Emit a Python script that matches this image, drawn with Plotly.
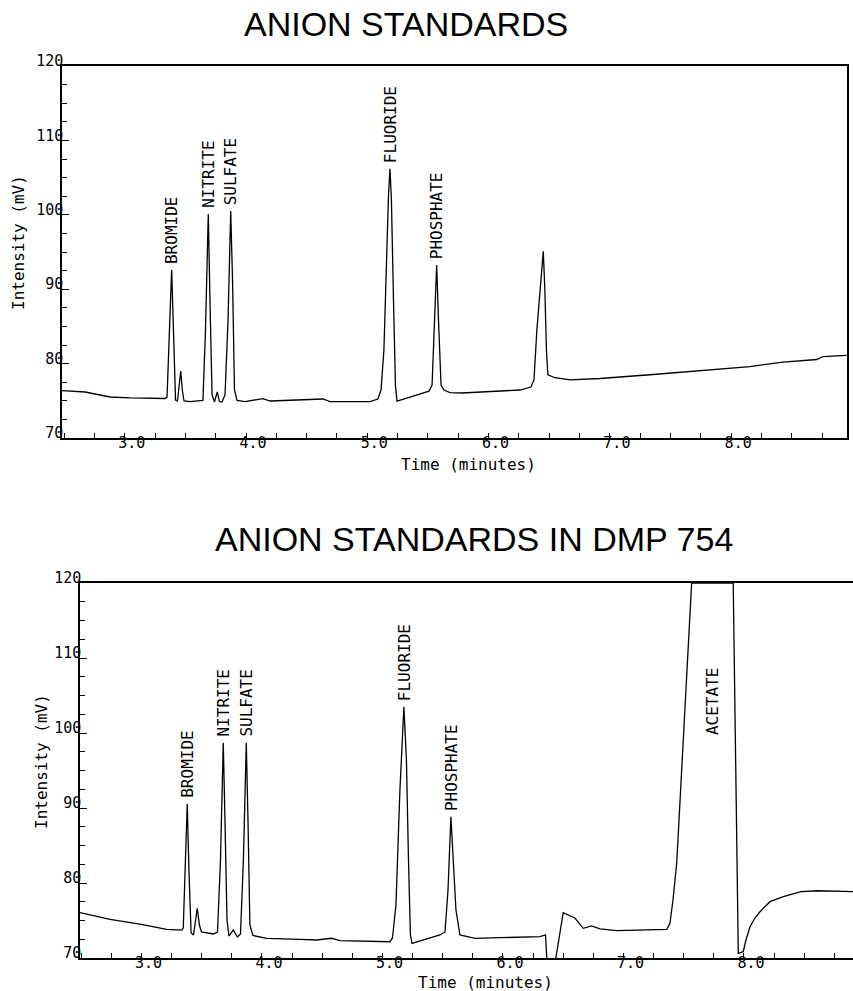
import plotly.graph_objects as go

# ---------------- data ----------------
top_time = [2.483, 2.673, 2.879, 3.044, 3.332, 3.349, 3.369, 3.387, 3.402, 3.419,
            3.435, 3.452, 3.462, 3.475, 3.489, 3.538, 3.645, 3.666, 3.689, 3.703,
            3.720, 3.740, 3.763, 3.781, 3.802, 3.827, 3.852, 3.874, 3.889, 3.905,
            3.926, 3.992, 4.140, 4.198, 4.635, 4.692, 5.022, 5.088, 5.113, 5.137,
            5.162, 5.175, 5.187, 5.199, 5.216, 5.232, 5.245, 5.270, 5.352, 5.459,
            5.509, 5.534, 5.554, 5.572, 5.587, 5.608, 5.632, 5.682, 5.781, 5.929,
            6.094, 6.259, 6.349, 6.374, 6.398, 6.423, 6.451, 6.464, 6.477, 6.489,
            6.547, 6.671, 6.918, 7.331, 7.744, 8.155, 8.427, 8.705, 8.757, 8.952]
top_mv = [76.36, 76.18, 75.51, 75.38, 75.31, 75.5, 84.5, 92.6, 84.5, 75.1,
          74.97, 77.1, 79.0, 76.45, 74.97, 74.9, 75.04, 84.5, 100.1, 88.5,
          75.8, 74.84, 76.2, 74.9, 74.84, 75.8, 85.9, 100.5, 91.2, 76.45,
          75.04, 74.9, 75.3, 74.97, 75.24, 74.9, 74.9, 75.24, 76.45, 81.8,
          96.6, 102.7, 106.2, 102.0, 88.5, 77.1, 74.97, 75.1, 75.5, 76.05,
          76.3, 77.1, 85.9, 93.25, 85.9, 77.1, 76.45, 76.1, 76.05, 76.2,
          76.3, 76.45, 76.85, 77.8, 84.5, 89.9, 95.1, 89.9, 81.8, 78.5,
          78.1, 77.8, 78.0, 78.5, 79.07, 79.6, 80.2, 80.55, 80.95, 81.1]

bot_time = [2.490, 2.739, 2.988, 3.209, 3.334, 3.347, 3.365, 3.380, 3.394, 3.412,
            3.432, 3.448, 3.463, 3.481, 3.498, 3.596, 3.631, 3.656, 3.679, 3.693,
            3.710, 3.726, 3.762, 3.797, 3.822, 3.846, 3.870, 3.884, 3.900, 3.925,
            4.039, 4.315, 4.454, 4.578, 4.647, 5.062, 5.083, 5.112, 5.145, 5.178,
            5.199, 5.216, 5.232, 5.245, 5.339, 5.477, 5.519, 5.544, 5.568, 5.585,
            5.610, 5.643, 5.768, 5.975, 6.307, 6.353, 6.365, 6.436, 6.500, 6.597,
            6.666, 6.736, 6.805, 6.944, 7.137, 7.359, 7.386, 7.411, 7.442, 7.510,
            7.566, 7.911, 7.953, 7.994, 8.017, 8.050, 8.091, 8.133, 8.216, 8.326,
            8.473, 8.612, 8.764, 8.913]
bot_mv = [76.04, 75.16, 74.53, 73.83, 73.73, 74.0, 83.07, 90.53, 81.73, 73.33,
          73.07, 75.07, 76.63, 74.4, 73.47, 73.2, 73.47, 83.07, 98.7, 88.4,
          75.07, 72.93, 73.73, 72.8, 73.2, 83.07, 98.7, 88.4, 74.4, 73.0,
          72.63, 72.49, 72.4, 72.63, 72.33, 72.17, 72.67, 77.07, 92.4, 103.5,
          96.4, 83.07, 73.07, 71.96, 72.4, 73.07, 73.47, 79.07, 88.84, 84.4,
          76.4, 73.07, 72.63, 72.71, 72.84, 73.07, 69.7, 69.7, 76.04, 75.33,
          73.96, 74.27, 73.87, 73.64, 73.73, 73.83, 74.63, 77.73, 82.63, 103.3,
          120.0, 120.0, 70.63, 70.84, 72.4, 74.17, 75.33, 76.17, 77.51, 78.17,
          78.84, 78.97, 78.87, 78.84]

top_peak_names = ["BROMIDE", "NITRITE", "SULFATE", "FLUORIDE", "PHOSPHATE"]
top_peak_times = [3.387, 3.689, 3.874, 5.187, 5.572]
bot_peak_names = ["BROMIDE", "NITRITE", "SULFATE", "FLUORIDE", "PHOSPHATE"]
bot_peak_times = [3.380, 3.679, 3.870, 5.178, 5.568]
acetate_name = "ACETATE"

x_tick_vals = [3, 4, 5, 6, 7, 8]
x_tick_text = ["3.0", "4.0", "5.0", "6.0", "7.0", "8.0"]
y_tick_vals = [70, 80, 90, 100, 110, 120]
y_tick_text = ["70", "80", "90", "100", "110", "120"]

title_top = "ANION STANDARDS"
title_bot = "ANION STANDARDS IN DMP 754"
x_title = "Time (minutes)"
y_title = "Intensity (mV)"

# ---------------- figure ----------------
W, H = 853, 991
MONO = "DejaVu Sans Mono"

def xp(p):
    return p / W

def yp(p):
    return 1 - p / H

fig = go.Figure()
fig.add_trace(go.Scatter(x=top_time, y=top_mv, mode="lines",
                         line=dict(color="black", width=1.3),
                         xaxis="x", yaxis="y", showlegend=False))
fig.add_trace(go.Scatter(x=bot_time, y=bot_mv, mode="lines",
                         line=dict(color="black", width=1.3),
                         xaxis="x2", yaxis="y2", showlegend=False))

def xaxis_cfg(domain, rng, anchor):
    return dict(domain=domain, range=rng, anchor=anchor, showline=True,
                automargin=False,
                linecolor="black", linewidth=1.5, mirror=True,
                ticks="inside", ticklen=5, tickwidth=1, tickcolor="black",
                tickvals=x_tick_vals, ticktext=x_tick_text,
                ticklabelshift=7, ticklabelstandoff=-10,
                tickfont=dict(family=MONO, size=15, color="black"),
                showgrid=False, zeroline=False,
                minor=dict(ticks="inside", ticklen=5, tickwidth=1,
                           tickcolor="black", dtick=0.25, tick0=0,
                           showgrid=False))

def yaxis_cfg(domain, anchor, mirror):
    return dict(domain=domain, range=[70, 120], anchor=anchor, showline=True,
                automargin=False,
                linecolor="black", linewidth=1.5, mirror=mirror,
                ticks="inside", ticklen=7, tickwidth=1, tickcolor="black",
                tickvals=y_tick_vals, ticktext=y_tick_text,
                ticklabelshift=-5, ticklabelstandoff=-6,
                tickfont=dict(family=MONO, size=15, color="black"),
                showgrid=False, zeroline=False,
                minor=dict(ticks="inside", ticklen=5, tickwidth=1,
                           tickcolor="black", dtick=2.5, tick0=0,
                           showgrid=False))

fig.update_layout(
    width=W, height=H,
    margin=dict(l=0, r=0, t=0, b=0, pad=0),
    paper_bgcolor="white", plot_bgcolor="white",
    xaxis=xaxis_cfg([xp(62), xp(847)], [2.483, 8.955], "y"),
    yaxis=yaxis_cfg([yp(438), yp(66)], "x", True),
    xaxis2=xaxis_cfg([xp(80), 1.0], [2.49, 8.905], "y2"),
    yaxis2=yaxis_cfg([yp(958), yp(583)], "x2", False),
)

ann = []
title_font = dict(family="Liberation Sans, Arial, sans-serif", size=34, color="black")
ann.append(dict(text=title_top, x=xp(405.5), y=yp(24), xref="paper", yref="paper",
                xanchor="center", yanchor="middle", showarrow=False, font=title_font))
ann.append(dict(text=title_bot, x=xp(474), y=yp(538.5), xref="paper", yref="paper",
                xanchor="center", yanchor="middle", showarrow=False, font=title_font))

lab_font = dict(family=MONO, size=16, color="black")
ann.append(dict(text=x_title, x=xp(468.5), y=yp(465), xref="paper", yref="paper",
                xanchor="center", yanchor="middle", showarrow=False, font=lab_font))
ann.append(dict(text=x_title, x=xp(486), y=yp(982), xref="paper", yref="paper",
                xanchor="center", yanchor="middle", showarrow=False, font=lab_font))
ann.append(dict(text=y_title, x=xp(19), y=yp(243), xref="paper", yref="paper",
                xanchor="center", yanchor="middle", textangle=-90, showarrow=False,
                font=lab_font))
ann.append(dict(text=y_title, x=xp(41), y=yp(762), xref="paper", yref="paper",
                xanchor="center", yanchor="middle", textangle=-90, showarrow=False,
                font=lab_font))

def peak_value(times, values, t):
    i = min(range(len(times)), key=lambda k: abs(times[k] - t))
    return values[i]

for name, t in zip(top_peak_names, top_peak_times):
    ann.append(dict(text=name, x=t, y=peak_value(top_time, top_mv, t),
                    xref="x", yref="y", xanchor="center", yanchor="bottom",
                    textangle=-90, showarrow=False, yshift=4, font=lab_font))
for name, t in zip(bot_peak_names, bot_peak_times):
    ann.append(dict(text=name, x=t, y=peak_value(bot_time, bot_mv, t),
                    xref="x2", yref="y2", xanchor="center", yanchor="bottom",
                    textangle=-90, showarrow=False, yshift=4, font=lab_font))
ann.append(dict(text=acetate_name, x=7.74, y=104.2, xref="x2", yref="y2",
                xanchor="center", yanchor="middle", textangle=-90,
                showarrow=False, font=lab_font))

fig.update_layout(annotations=ann)
fig.write_html("out.html")
